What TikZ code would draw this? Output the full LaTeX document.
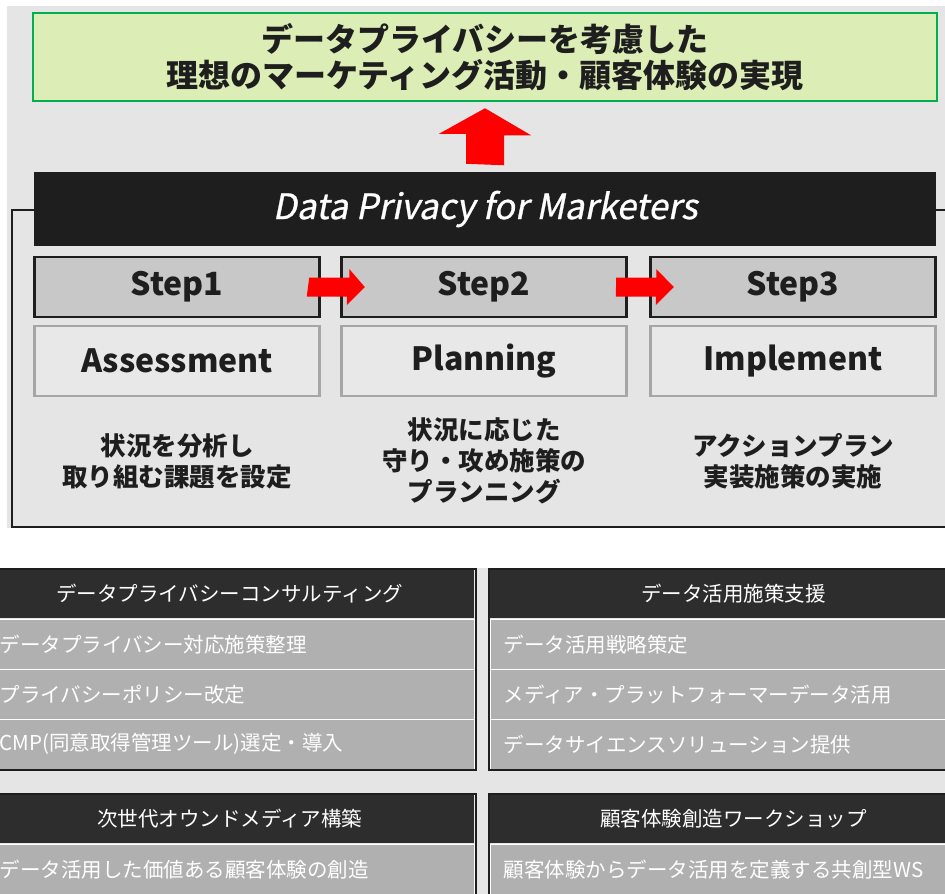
\documentclass[tikz,border=0pt]{standalone}
\usepackage{fontspec}
\setmainfont{Noto Sans CJK JP}
\newfontfamily\slfont{Noto Sans CJK JP}[FakeSlant=0.2,FakeBold=0.8]
\definecolor{bgA}{HTML}{E5E5E5}
\definecolor{goalfill}{HTML}{DCEEB6}
\definecolor{goalline}{HTML}{00B050}
\definecolor{ink}{HTML}{1E1E1E}
\definecolor{stepfill}{HTML}{C8C8C8}
\definecolor{phasefill}{HTML}{E8E8E8}
\definecolor{phaseline}{HTML}{A6A6A6}
\definecolor{hdrfill}{HTML}{2D2D2D}
\definecolor{rowfill}{HTML}{B0B0B0}
\definecolor{arrowred}{HTML}{FF0000}
\begin{document}
\begin{tikzpicture}[x=1pt,y=-1pt,
  goalbox/.style={draw=goalline, fill=goalfill, line width=2.5pt, minimum width=904pt, minimum height=88pt, inner sep=0pt, align=center, text=ink, font=\bfseries\fontsize{32}{36}\selectfont},
  banner/.style={fill=ink, minimum width=902pt, minimum height=74pt, inner sep=0pt, text=white, font=\slfont\fontsize{35}{40}\selectfont},
  stepbox/.style={draw=ink, fill=stepfill, line width=2.5pt, minimum width=285pt, minimum height=60pt, inner sep=0pt, text=ink, font=\bfseries\fontsize{32}{36}\selectfont},
  phasebox/.style={draw=phaseline, fill=phasefill, line width=2.5pt, minimum width=285pt, minimum height=70pt, inner sep=0pt, text=ink, font=\bfseries\fontsize{32}{36}\selectfont},
  desc/.style={align=center, inner sep=0pt, text=ink, font=\bfseries\fontsize{25.5}{31}\selectfont},
  redarrow/.style={fill=arrowred, draw=none},
  frameline/.style={draw=ink, line width=2.5pt},
  hdr/.style={fill=hdrfill, minimum width=489pt, minimum height=49pt, inner sep=0pt, text=white, font=\fontsize{20.5}{24}\selectfont},
  row/.style={fill=rowfill, draw=white, line width=1.5pt, minimum height=50pt, text width=461pt, inner xsep=14pt, inner ysep=0pt, align=left, text=white, font=\fontsize{20.5}{24}\selectfont},
  panelline/.style={draw=ink, line width=2pt}
]
\useasboundingbox (0,0) rectangle (945,894);
\fill[white] (0,0) rectangle (945,894);
% ---------- upper part ----------
\fill[bgA] (7,6) rectangle (945,528);
\draw[frameline] (950,210) -- (12,210) -- (12,527) -- (950,527);

\node[goalbox] (goal) at (485,57) {データプライバシーを考慮した\\理想のマーケティング活動・顧客体験の実現};

\node[banner] (banner) at (485,209) {Data Privacy for Marketers};

% up arrow from banner to goal
\coordinate (upTail) at ([yshift=8pt]banner.north);
\coordinate (upTip) at ([yshift=-6pt]goal.south);
\fill[redarrow] (upTail) ++(-19,0) -- ++(0,-30) -- ++(-27,0) -- (upTip) -- ++(46,27) -- ++(-27,0) -- ++(0,30) -- cycle;

\node[stepbox] (s1) at (177,287) {Step1};
\node[stepbox] (s2) at (484,287) {Step2};
\node[stepbox] (s3) at (793,287) {Step3};

\node[phasebox] (p1) at (177,361) {Assessment};
\node[phasebox] (p2) at (484,361) {Planning};
\node[phasebox] (p3) at (793,361) {Implement};

% step arrows
\coordinate (t1) at ([xshift=-11.5pt]s1.east);
\coordinate (k1) at ([xshift=24.5pt]s2.west);
\coordinate (t2) at ([xshift=-11.5pt]s2.east);
\coordinate (k2) at ([xshift=24.5pt]s3.west);
\fill[redarrow] (t1) ++(0,-9.5) -- ++(40,0) -- ++(0,-8.5) -- (k1) -- ++(-18,18) -- ++(0,-8.5) -- ++(-40,0) -- cycle;
\fill[redarrow] (t2) ++(0,-9.5) -- ++(40,0) -- ++(0,-8.5) -- (k2) -- ++(-18,18) -- ++(0,-8.5) -- ++(-40,0) -- cycle;

\node[desc] (d1) at (177,461) {状況を分析し\\取り組む課題を設定};
\node[desc] (d2) at (484,461) {状況に応じた\\守り・攻め施策の\\プランニング};
\node[desc] (d3) at (793,461) {アクションプラン\\実装施策の実施};

% ---------- lower part ----------
\fill[bgA] (0,568) rectangle (945,894);

% panel 1
\node[hdr, anchor=north west] (h1) at (-15,569) {データプライバシーコンサルティング};
\node[row, anchor=north west] (r11) at (-15,618.5) {データプライバシー対応施策整理};
\node[row, anchor=north west] (r12) at (-15,668.5) {プライバシーポリシー改定};
\node[row, anchor=north west] (r13) at (-15,718.5) {CMP(同意取得管理ツール)選定・導入};
\draw[panelline] (h1.north west) rectangle (r13.south east);

% panel 2
\node[hdr, anchor=north west] (h2) at (489,569) {データ活用施策支援};
\node[row, anchor=north west] (r21) at (489,618.5) {データ活用戦略策定};
\node[row, anchor=north west] (r22) at (489,668.5) {メディア・プラットフォーマーデータ活用};
\node[row, anchor=north west] (r23) at (489,718.5) {データサイエンスソリューション提供};
\draw[panelline] (h2.north west) rectangle (r23.south east);

% panel 3
\node[hdr, anchor=north west] (h3) at (-15,794) {次世代オウンドメディア構築};
\node[row, anchor=north west] (r31) at (-15,843.5) {データ活用した価値ある顧客体験の創造};
\draw[panelline] (h3.north west) rectangle (r31.south east);

% panel 4
\node[hdr, anchor=north west] (h4) at (489,794) {顧客体験創造ワークショップ};
\node[row, anchor=north west] (r41) at (489,843.5) {顧客体験からデータ活用を定義する共創型WS};
\draw[panelline] (h4.north west) rectangle (r41.south east);
\end{tikzpicture}
\end{document}
